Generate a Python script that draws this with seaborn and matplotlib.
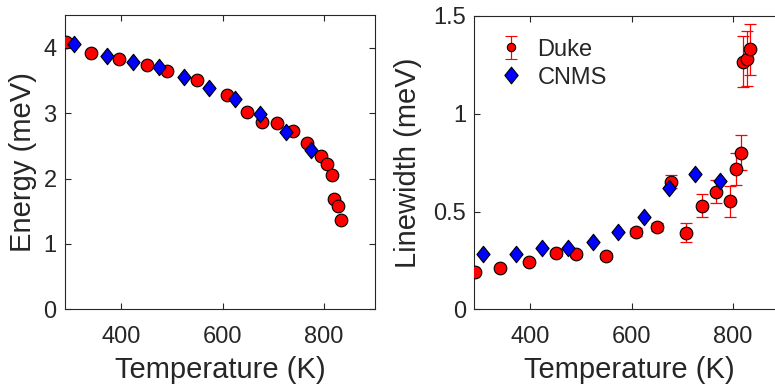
import numpy as np
import pandas as pd
import matplotlib
matplotlib.use("Agg")
import matplotlib.pyplot as plt
from matplotlib.path import Path
from matplotlib.lines import Line2D
import seaborn as sns

# ---------------- data ----------------
duke_T = [291, 341, 397, 451, 491, 549, 608, 649, 678, 708, 738, 767, 794, 805, 816, 820, 828, 833]
duke_E = [4.09, 3.92, 3.83, 3.74, 3.64, 3.51, 3.27, 3.01, 2.86, 2.85, 2.73, 2.55, 2.35, 2.22, 2.06, 1.69, 1.58, 1.36]
duke_W = [0.193, 0.213, 0.240, 0.290, 0.281, 0.273, 0.394, 0.421, 0.653, 0.392, 0.530, 0.602, 0.552, 0.718, 0.801, 1.266, 1.282, 1.329]
duke_Werr = [0.01, 0.01, 0.01, 0.015, 0.015, 0.015, 0.02, 0.02, 0.034, 0.05, 0.06, 0.06, 0.08, 0.08, 0.09, 0.13, 0.14, 0.13]

cnms_T = [307, 373, 424, 475, 524, 574, 625, 674, 724, 775]
cnms_E = [4.06, 3.88, 3.78, 3.70, 3.55, 3.39, 3.22, 2.99, 2.71, 2.43]
cnms_W = [0.281, 0.281, 0.315, 0.312, 0.346, 0.397, 0.474, 0.622, 0.692, 0.656]

x_ticks = [400, 600, 800]
e_ticks = [0, 1, 2, 3, 4]
w_ticks = [0, 0.5, 1, 1.5]
w_ticklabels = ["0", "0.5", "1", "1.5"]

duke = pd.DataFrame({"T": duke_T, "E": duke_E, "W": duke_W, "err": duke_Werr})
cnms = pd.DataFrame({"T": cnms_T, "E": cnms_E, "W": cnms_W})

# ---------------- style ----------------
sns.set_style("white")
TXT = "#262626"
plt.rcParams["font.family"] = ["Liberation Sans", "DejaVu Sans"]
plt.rcParams["text.color"] = TXT
plt.rcParams["axes.labelcolor"] = TXT
plt.rcParams["xtick.color"] = TXT
plt.rcParams["ytick.color"] = TXT

diamond = Path([(0, 1), (0.8, 0), (0, -1), (-0.8, 0), (0, 1)],
               [Path.MOVETO, Path.LINETO, Path.LINETO, Path.LINETO, Path.CLOSEPOLY])

fig = plt.figure(figsize=(7.75, 3.85), dpi=100)
ax1 = fig.add_axes([65 / 775, 75.7 / 385, 310 / 775, 294.3 / 385])
ax2 = fig.add_axes([474.3 / 775, 75.7 / 385, 309.6 / 775, 293.3 / 385])

CIRC_S = 83
DIAM_S = 140

def style_axes(ax):
    for sp in ax.spines.values():
        sp.set_visible(True)
        sp.set_color("#262626")
        sp.set_linewidth(0.8)
    ax.tick_params(direction="in", length=4, width=0.8, top=True, right=True,
                   bottom=True, left=True, labelsize=17)
    ax.tick_params(axis="x", pad=12)
    ax.tick_params(axis="y", pad=6)

# left panel
sns.scatterplot(data=duke, x="T", y="E", ax=ax1, marker="o", s=CIRC_S, color="#ff0000",
                edgecolor="black", linewidth=0.8, zorder=3, legend=False)
sns.scatterplot(data=cnms, x="T", y="E", ax=ax1, marker=diamond, s=DIAM_S, color="#0000ff",
                edgecolor="black", linewidth=0.8, zorder=4, legend=False)
ax1.set_xlim(290, 900)
ax1.set_ylim(0, 4.5)
ax1.set_xticks(x_ticks)
ax1.set_yticks(e_ticks)
ax1.set_xlabel("Temperature (K)", fontsize=21, labelpad=6)
ax1.set_ylabel("Energy (meV)", fontsize=21, labelpad=5)
style_axes(ax1)

# right panel
ax2.errorbar(duke["T"], duke["W"], yerr=duke["err"], fmt="none", ecolor="#ff0000",
             elinewidth=0.9, capsize=4, capthick=0.9, zorder=2)
sns.scatterplot(data=duke, x="T", y="W", ax=ax2, marker="o", s=CIRC_S, color="#ff0000",
                edgecolor="black", linewidth=0.8, zorder=3, legend=False)
sns.scatterplot(data=cnms, x="T", y="W", ax=ax2, marker=diamond, s=DIAM_S, color="#0000ff",
                edgecolor="black", linewidth=0.8, zorder=4, legend=False)
ax2.set_xlim(290, 900)
ax2.set_ylim(0, 1.5)
ax2.set_xticks(x_ticks)
ax2.set_yticks(w_ticks)
ax2.set_yticklabels(w_ticklabels)
ax2.set_xlabel("Temperature (K)", fontsize=21, labelpad=6)
ax2.set_ylabel("Linewidth (meV)", fontsize=21, labelpad=8)
style_axes(ax2)

# legend handles (drawn with NaN data so nothing appears on the axes)
h_duke = ax2.errorbar([np.nan], [np.nan], yerr=[0.1], fmt="o", ms=6, mfc="#ff0000",
                      mec="black", mew=0.8, ecolor="#ff0000", elinewidth=0.9,
                      capsize=4, capthick=0.9)
h_cnms = Line2D([], [], linestyle="none", marker=diamond, markersize=12,
                markerfacecolor="#0000ff", markeredgecolor="black", markeredgewidth=0.8)
ax2.legend([h_duke, h_cnms], ["Duke", "CNMS"], loc="upper left",
           bbox_to_anchor=(0.013, 0.995), frameon=False, fontsize=17,
           handlelength=1.0, handletextpad=0.6, labelspacing=0.25)

fig.savefig("out.png", dpi=100)
